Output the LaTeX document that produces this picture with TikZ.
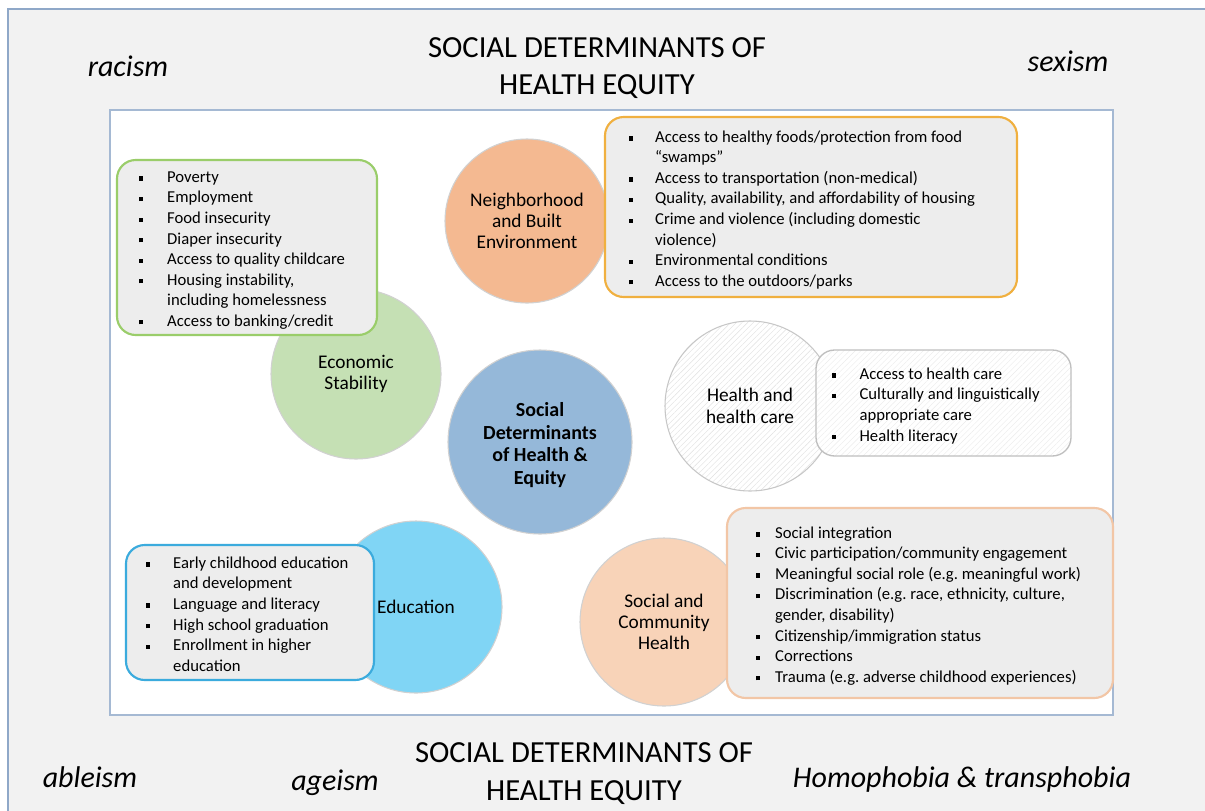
\documentclass[tikz,border=0pt]{standalone}
\usepackage{fontspec}
\setmainfont{Carlito}
\usetikzlibrary{patterns.meta}
\definecolor{framegray}{HTML}{F2F2F2}
\definecolor{frameline}{HTML}{8FA8C8}
\definecolor{econfill}{HTML}{C5E0B4}
\definecolor{econline}{HTML}{9ACD6A}
\definecolor{neighfill}{HTML}{F4B991}
\definecolor{neighline}{HTML}{F0B040}
\definecolor{corefill}{HTML}{95B8D9}
\definecolor{educfill}{HTML}{80D5F5}
\definecolor{educline}{HTML}{3BABDD}
\definecolor{socfill}{HTML}{F8D3B8}
\definecolor{socline}{HTML}{F2C6A6}
\definecolor{boxfill}{HTML}{EDEDED}
\newlength{\gapw}
\newcommand{\blt}{\makebox[\gapw][l]{\raisebox{1.3pt}{\rule{3.2pt}{3.2pt}}}}
\newcommand{\indnt}{\hspace*{\gapw}}
\begin{document}
\frenchspacing
\begin{tikzpicture}[x=0.75pt, y=-0.75pt,
    topic/.style={circle, draw=black!18, line width=0.8pt, inner sep=0pt, align=center, font=\fontsize{14.5}{16}\selectfont},
    panel/.style={draw=#1, line width=1.6pt, fill=boxfill, rounded corners=14pt, inner sep=0pt},
    items/.style={anchor=west, inner sep=0pt, yshift=-3.4pt, align=left, font=\fontsize{12.5}{15.4}\selectfont,
        execute at begin node={\global\gapw=#1\relax\strut}, execute at end node={\strut}},
    ism/.style={anchor=base, font=\fontsize{22.5}{27}\selectfont\itshape},
    heading/.style={align=center, font=\fontsize{23}{28}\selectfont}]
    \useasboundingbox (0,0) rectangle (1205,810);
    % frame and panel
    \fill[framegray] (8,9) rectangle (1215,820);
    \draw[frameline, line width=1.2pt] (8,820) |- (1215,9);
    \draw[frameline!80, line width=1.2pt, fill=white] (110,110) rectangle (1113,715);
    % headings and isms
    \node[heading] (title-top) at (597,68) {SOCIAL DETERMINANTS OF\\HEALTH EQUITY};
    \node[heading] (title-bot) at (584,773.5) {SOCIAL DETERMINANTS OF\\HEALTH EQUITY};
    \node[ism] (racism) at (128,76.5) {racism};
    \node[ism] (sexism) at (1068,71) {sexism};
    \node[ism] (ableism) at (90,787) {ableism};
    \node[ism] (ageism) at (335,790) {ageism};
    \node[ism] (phobia) at (962,787) {Homophobia \& transphobia};
    % circles
    \node[topic, fill=econfill, minimum size=127.5pt] (econ) at (356,374) {Economic\\Stability};
    \node[topic, fill=neighfill, minimum size=123pt] (neigh) at (527,221) {Neighborhood\\and Built\\Environment};
    \node[topic, fill=corefill, minimum size=138pt, font=\fontsize{15}{17}\selectfont\bfseries] (core) at (540,442) {\rule{0pt}{15pt}Social\\Determinants\\of Health \&\\Equity};
    \node[topic, draw=black!22, preaction={fill=white}, pattern={Lines[angle=45,distance=3pt,line width=0.3pt]}, pattern color=black!12, minimum size=127.5pt] (health) at (750,406) {Health and\\health care};
    \node[topic, fill=educfill, minimum size=129pt] (educ) at (416,607) {Education};
    \node[topic, fill=socfill, minimum size=126pt] (soc) at (664,622) {Social and\\Community\\Health};
    % boxes
    \node[panel=econline, minimum width=195pt, minimum height=131.25pt] (econ-box) at (247,247.5) {};
    \node[items=21pt] (econ-list) at ([xshift=17.25pt]econ-box.west) {\blt Poverty\\ \blt Employment\\ \blt Food insecurity\\ \blt Diaper insecurity\\ \blt Access to quality childcare\\ \blt Housing instability,\\ \indnt including homelessness\\ \blt Access to banking/credit};
    \node[panel=neighline, minimum width=309pt, minimum height=135pt] (neigh-box) at (811,207) {};
    \node[items=19.5pt] (neigh-list) at ([xshift=18.75pt]neigh-box.west) {\blt Access to healthy foods/protection from food\\ \indnt “swamps”\\ \blt Access to transportation (non-medical)\\ \blt Quality, availability, and affordability of housing\\ \blt Crime and violence (including domestic\\ \indnt violence)\\ \blt Environmental conditions\\ \blt Access to the outdoors/parks};
    \node[panel=black!25, line width=1pt, fill=none, preaction={fill=white}, pattern={Lines[angle=45,distance=3pt,line width=0.3pt]}, pattern color=black!8, minimum width=191.25pt, minimum height=79.5pt] (health-box) at (943.5,403) {};
    \node[items=21pt] (health-list) at ([xshift=12pt]health-box.west) {\blt Access to health care\\ \blt Culturally and linguistically\\ \indnt appropriate care\\ \blt Health literacy};
    \node[panel=educline, minimum width=186pt, minimum height=101.25pt] (educ-box) at (250,612.5) {};
    \node[items=20.25pt] (educ-list) at ([xshift=15.75pt]educ-box.west) {\blt Early childhood education\\ \indnt and development\\ \blt Language and literacy\\ \blt High school graduation\\ \blt Enrollment in higher\\ \indnt education};
    \node[panel=socline, minimum width=289.5pt, minimum height=142.5pt] (soc-box) at (920,603) {};
    \node[items=14.25pt] (soc-list) at ([xshift=22.5pt]soc-box.west) {\blt Social integration\\ \blt Civic participation/community engagement\\ \blt Meaningful social role (e.g. meaningful work)\\ \blt Discrimination (e.g. race, ethnicity, culture,\\ \indnt gender, disability)\\ \blt Citizenship/immigration status\\ \blt Corrections\\ \blt Trauma (e.g. adverse childhood experiences)};
\end{tikzpicture}
\end{document}
